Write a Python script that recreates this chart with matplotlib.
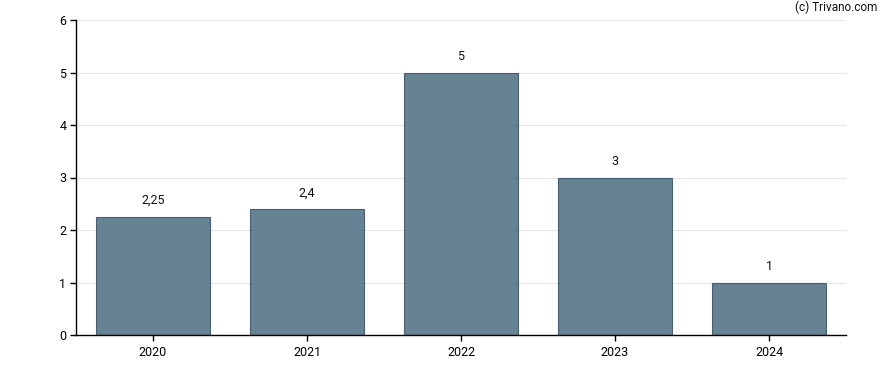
import matplotlib
matplotlib.use("Agg")
import matplotlib.pyplot as plt

years = ["2020", "2021", "2022", "2023", "2024"]
values = [2.25, 2.4, 5, 3, 1]
labels = ["2,25", "2,4", "5", "3", "1"]
yticks = [0, 1, 2, 3, 4, 5, 6]

plt.rcParams['font.family'] = ['Roboto', 'DejaVu Sans']

fig = plt.figure(figsize=(8.88, 3.7), dpi=100)
ax = fig.add_axes([76/888, 1-335/370, (846-76)/888, (335-20)/370])

x = list(range(len(years)))
ax.bar(x, values, width=0.745, color='#416377', alpha=0.8,
       edgecolor='#2c4a5e', linewidth=0.8, zorder=2)
for xi, v, lab in zip(x, values, labels):
    ax.annotate(lab, (xi, v), xytext=(0, 7), textcoords='offset points',
                ha='center', va='bottom', fontsize=9, color='#111111')

ax.set_xlim(-0.5, 4.5)
ax.set_ylim(0, 6)
ax.set_yticks(yticks)
ax.set_yticklabels([str(t) for t in yticks])
ax.set_xticks(x)
ax.set_xticklabels(years)
ax.grid(axis='y', color='#e6e6e6', linewidth=0.8, zorder=0)
ax.set_axisbelow(True)
for s in ['top', 'right']:
    ax.spines[s].set_visible(False)
for s in ['left', 'bottom']:
    ax.spines[s].set_linewidth(1.0)
    ax.spines[s].set_color('black')
ax.tick_params(axis='both', direction='out', length=4, width=1, labelsize=9, colors='black')
ax.tick_params(axis='x', pad=4)
ax.tick_params(axis='y', pad=3)

fig.text(877/888, 1-7/370, "(c) Trivano.com", ha='right', va='center', fontsize=8.5, color='#111111')

fig.savefig("out.png", dpi=100)
